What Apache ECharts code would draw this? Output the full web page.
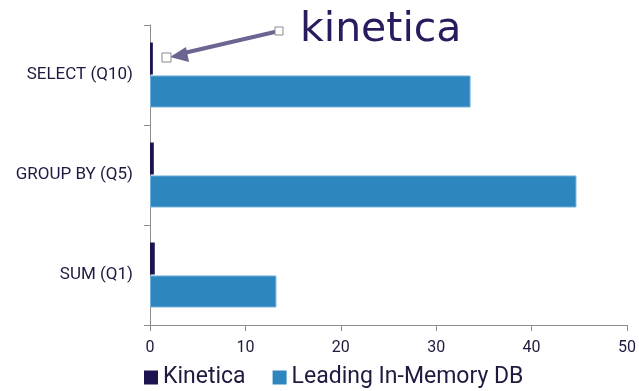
<!DOCTYPE html>
<html><head><meta charset="utf-8">
<script src="https://cdn.jsdelivr.net/npm/echarts@6/dist/echarts.min.js"></script>
<style>html,body{margin:0;padding:0;background:#fff}#c{width:639px;height:391px}</style>
</head><body><div id="c"></div>
<script>
const categories = ['SELECT (Q10)', 'GROUP BY (Q5)', 'SUM (Q1)'];
const kineticaValues = [0.3, 0.4, 0.5];
const leadingValues = [33.6, 44.7, 13.25];
const xTicks = { min: 0, max: 50, interval: 10 };
const seriesNames = ['Kinetica', 'Leading In-Memory DB'];

const txt = '#1e1a40';
const axisGray = '#8c8c8c';
const chart = echarts.init(document.getElementById('c'));
chart.setOption({
  animation: false,
  textStyle: { fontFamily: 'Roboto' },
  grid: { left: 150, right: 11, top: 25, bottom: 66 },
  xAxis: {
    type: 'value', min: xTicks.min, max: xTicks.max, interval: xTicks.interval,
    axisLine: { show: true, lineStyle: { color: axisGray, width: 1 } },
    axisTick: { show: true, length: 6, lineStyle: { color: axisGray } },
    splitLine: { show: false },
    axisLabel: { color: txt, fontSize: 16, margin: 15, fontFamily: 'Roboto' }
  },
  yAxis: {
    type: 'category', data: categories, inverse: true,
    axisLine: { show: true, lineStyle: { color: axisGray, width: 1 } },
    axisTick: { show: true, length: 6, lineStyle: { color: axisGray } },
    axisLabel: { color: txt, fontSize: 17, margin: 17, fontFamily: 'Roboto' }
  },
  legend: {
    left: 139, top: 361, icon: 'rect', itemWidth: 14, itemHeight: 14, itemGap: 27,
    itemStyle: { borderWidth: 0 },
    textStyle: { color: txt, fontSize: 23, fontFamily: 'Roboto' },
    data: seriesNames
  },
  series: [
    { name: seriesNames[0], type: 'bar', data: kineticaValues, barWidth: 32, barGap: '3%',
      itemStyle: { color: '#1c1450' } },
    { name: seriesNames[1], type: 'bar', data: leadingValues, barWidth: 32,
      itemStyle: { color: '#2e86be', borderColor: '#6fb0dc', borderWidth: 1 } }
  ],
  graphic: [
    { type: 'text', left: 300, top: 10, style: { text: 'kinetica', fontSize: 41, fontFamily: 'DejaVu Sans', fill: '#2a1a5e' } },
    { type: 'line', shape: { x1: 279, y1: 31, x2: 184, y2: 53 }, style: { stroke: '#6b6592', lineWidth: 4 } },
    { type: 'polygon', shape: { points: [[170, 57], [186, 47], [189, 62]] }, style: { fill: '#6b6592' } },
    { type: 'rect', shape: { x: 275, y: 27, width: 8, height: 8 }, style: { fill: '#fff', stroke: '#8a8a8a', lineWidth: 1 } },
    { type: 'rect', shape: { x: 162, y: 53, width: 9, height: 9 }, style: { fill: '#fff', stroke: '#8a8a8a', lineWidth: 1 } }
  ]
});
</script></body></html>
